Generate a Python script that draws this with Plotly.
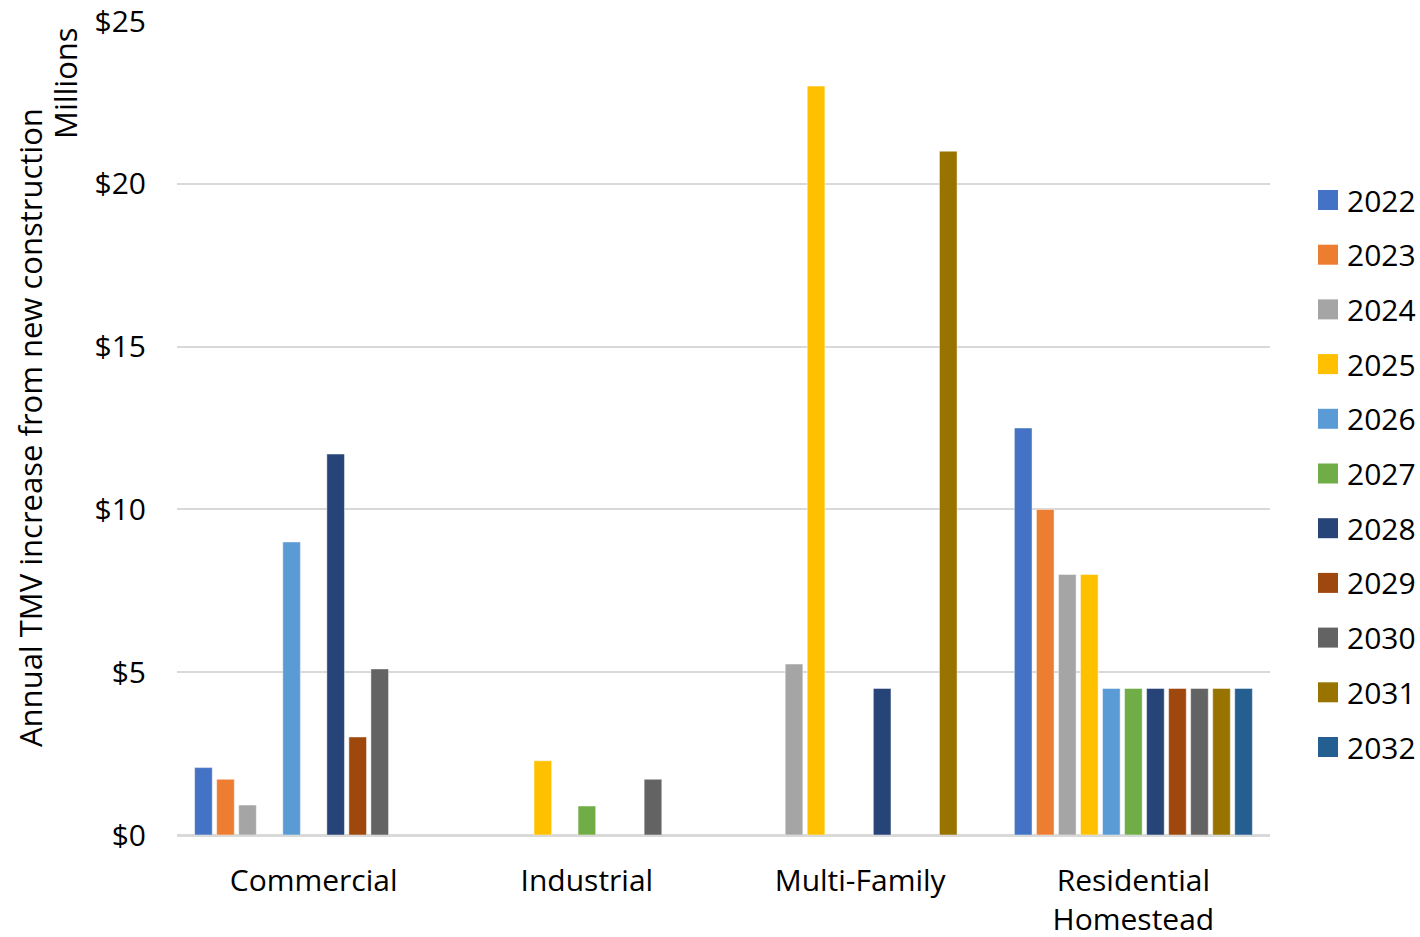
import plotly.graph_objects as go

# Property categories on the x axis
categories = ["Commercial", "Industrial", "Multi-Family", "Residential<br>Homestead"]

# Construction years (one bar series per year)
years = ["2022", "2023", "2024", "2025", "2026", "2027",
         "2028", "2029", "2030", "2031", "2032"]

# Annual TMV increase, $ millions, per category for each year (None = no value)
tmv_2022 = [2.07, None, None, 12.5]
tmv_2023 = [1.71, None, None, 10.0]
tmv_2024 = [0.92, None, 5.25, 8.0]
tmv_2025 = [None, 2.28, 23.0, 8.0]
tmv_2026 = [9.0, None, None, 4.5]
tmv_2027 = [None, 0.89, None, 4.5]
tmv_2028 = [11.7, None, 4.5, 4.5]
tmv_2029 = [3.01, None, None, 4.5]
tmv_2030 = [5.1, 1.71, None, 4.5]
tmv_2031 = [None, None, 21.0, 4.5]
tmv_2032 = [None, None, None, 4.5]

series = [tmv_2022, tmv_2023, tmv_2024, tmv_2025, tmv_2026, tmv_2027,
          tmv_2028, tmv_2029, tmv_2030, tmv_2031, tmv_2032]

colors = ["#4472C4", "#ED7D31", "#A5A5A5", "#FFC000", "#5B9BD5", "#70AD47",
          "#264478", "#9E480E", "#636363", "#997300", "#255E91"]

FONT = "Open Sans"
FS = 30
FS_TITLE = 31
TXT = "#000000"
GRID = "#D9D9D9"

W, H = 1420, 937
ML, MR, MT, MB = 177, 150, 21, 102
PW, PH = W - ML - MR, H - MT - MB

fig = go.Figure()
for yr, vals, col in zip(years, series, colors):
    fig.add_trace(go.Bar(
        x=categories, y=vals, name=yr,
        marker=dict(color=col, line=dict(color="rgba(255,255,255,0.45)", width=1)),
        showlegend=False,
    ))


def px_x(px):
    return (px - ML) / PW


def px_y(py):
    return (H - MB - py) / PH


# Legend column on the right: square swatch + year label
shapes = []
annotations = []
for i, (yr, col) in enumerate(zip(years, colors)):
    cy = 200 + 54.7 * i
    shapes.append(dict(
        type="rect", xref="paper", yref="paper",
        x0=px_x(1318), x1=px_x(1338), y0=px_y(cy + 10), y1=px_y(cy - 10),
        fillcolor=col, line=dict(width=0),
    ))
    annotations.append(dict(
        xref="paper", yref="paper", x=px_x(1345), y=px_y(cy),
        xanchor="left", yanchor="middle", text=yr, showarrow=False,
        font=dict(family=FONT, size=FS, color=TXT),
    ))

# Y axis title and display-unit label
annotations.append(dict(
    xref="paper", yref="paper", x=px_x(30), y=px_y(428),
    xanchor="center", yanchor="middle", textangle=-90,
    text="Annual TMV increase from new construction", showarrow=False,
    font=dict(family=FONT, size=FS_TITLE, color=TXT),
))
annotations.append(dict(
    xref="paper", yref="paper", x=px_x(65), y=px_y(83),
    xanchor="center", yanchor="middle", textangle=-90,
    text="Millions", showarrow=False,
    font=dict(family=FONT, size=FS_TITLE, color=TXT),
))

fig.update_layout(
    width=W, height=H,
    margin=dict(l=ML, r=MR, t=MT, b=MB, autoexpand=False),
    paper_bgcolor="white", plot_bgcolor="white",
    barmode="group", bargap=0.113, bargroupgap=0.2,
    font=dict(family=FONT, size=FS, color=TXT),
    shapes=shapes, annotations=annotations,
    showlegend=False,
)
fig.update_xaxes(
    showgrid=False, showline=True, linecolor=GRID, linewidth=1.5,
    ticks="", ticklabelstandoff=18, ticklabeloverflow="allow",
    tickfont=dict(family=FONT, size=FS, color=TXT),
)
fig.update_yaxes(
    range=[0, 25], tickvals=[0, 5, 10, 15, 20, 25],
    ticktext=["$0", "$5", "$10", "$15", "$20", "$25"],
    showgrid=True, gridcolor=GRID, gridwidth=1.5,
    zeroline=True, zerolinecolor=GRID, zerolinewidth=1.5,
    showline=False, ticks="", ticklabelstandoff=30, ticklabeloverflow="allow",
    tickfont=dict(family=FONT, size=FS, color=TXT),
)

fig.write_html("out.html", config={"displayModeBar": False})
